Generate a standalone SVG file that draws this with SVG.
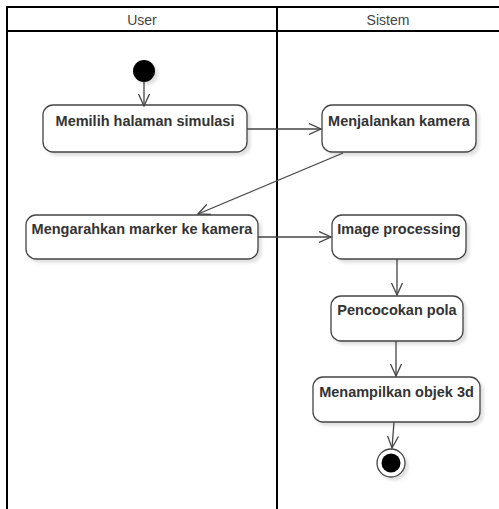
<svg xmlns="http://www.w3.org/2000/svg" width="499" height="509" viewBox="0 0 499 509">
  <style>
    .lane { fill: none; stroke: #000; stroke-width: 2; }
    .head { font-family: "Liberation Sans", Arial, sans-serif; font-size: 14px; fill: #444; text-anchor: middle; }
    .act rect { fill: #fff; stroke: #444; stroke-width: 1.3; filter: url(#shadow); }
    .act text { font-family: "Liberation Sans", Arial, sans-serif; font-size: 14.5px; font-weight: bold; fill: #333; text-anchor: middle; }
    .flow { fill: none; stroke: #444; stroke-width: 1.3; marker-end: url(#open); }
  </style>
  <defs>
    <filter id="shadow" x="-10%" y="-20%" width="130%" height="150%">
      <feDropShadow dx="3" dy="3" stdDeviation="1.5" flood-color="#000" flood-opacity="0.12"/>
    </filter>
    <marker id="open" markerUnits="userSpaceOnUse" markerWidth="14" markerHeight="14" refX="12" refY="6" orient="auto">
      <path d="M0,0.5 L12,6 L0,11.5" fill="none" stroke="#444" stroke-width="1.3"/>
    </marker>
  </defs>

  <rect width="499" height="509" fill="#fff"/>

  <!-- swimlanes -->
  <g id="lanes">
    <path class="lane" d="M7,510 V7 H500 M7,31 H500 M277,7 V510"/>
    <text class="head" x="142" y="25">User</text>
    <text class="head" x="388" y="25">Sistem</text>
  </g>

  <!-- start / end -->
  <g id="start">
    <circle cx="144" cy="71" r="11" fill="#000" filter="url(#shadow)"/>
  </g>
  <g id="end">
    <circle cx="391" cy="463" r="14" fill="#fff" stroke="#444" stroke-width="1.3" filter="url(#shadow)"/>
    <circle cx="391" cy="463" r="9.5" fill="#000"/>
  </g>

  <!-- activities -->
  <g id="memilih" class="act">
    <rect x="43" y="105" width="204" height="47" rx="10"/>
    <text x="145" y="126">Memilih halaman simulasi</text>
  </g>
  <g id="menjalankan" class="act">
    <rect x="322" y="105" width="154" height="47" rx="10"/>
    <text x="399" y="126">Menjalankan kamera</text>
  </g>
  <g id="mengarahkan" class="act">
    <rect x="26" y="215" width="232" height="44" rx="10"/>
    <text x="142" y="234">Mengarahkan marker ke kamera</text>
  </g>
  <g id="image" class="act">
    <rect x="332" y="215" width="134" height="44" rx="10"/>
    <text x="399" y="234">Image processing</text>
  </g>
  <g id="pencocokan" class="act">
    <rect x="331" y="296" width="132" height="45" rx="10"/>
    <text x="397" y="315">Pencocokan pola</text>
  </g>
  <g id="menampilkan" class="act">
    <rect x="313" y="377" width="167" height="45" rx="10"/>
    <text x="396.5" y="397">Menampilkan objek 3d</text>
  </g>

  <!-- control flows -->
  <g id="connectors">
    <path class="flow" d="M144,82 V106"/>
    <path class="flow" d="M247,129 H321"/>
    <path class="flow" d="M343,153 L198,214"/>
    <path class="flow" d="M258,237 H331"/>
    <path class="flow" d="M397,259 V295"/>
    <path class="flow" d="M396,341 V376"/>
    <path class="flow" d="M394,422 L392,448"/>
  </g>
</svg>
